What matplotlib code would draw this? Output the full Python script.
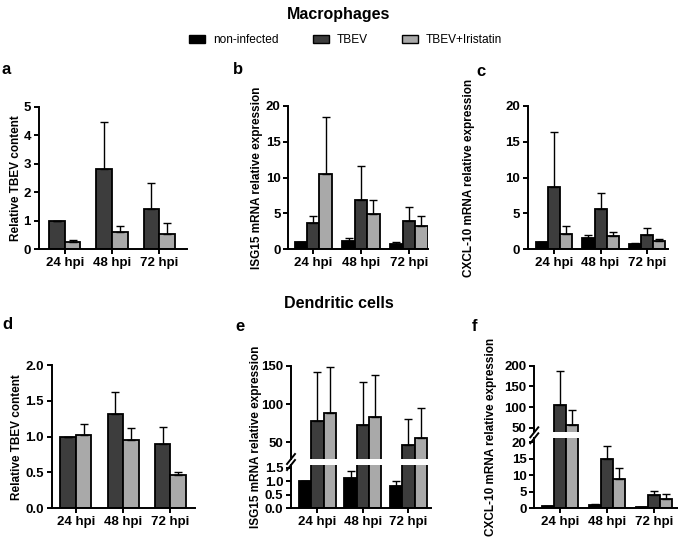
import numpy as np
import matplotlib
matplotlib.use("Agg")
import matplotlib.pyplot as plt
from matplotlib.patches import Patch

plt.rcParams["font.family"] = ["Liberation Sans", "DejaVu Sans"]

W, H = 678, 537

groups = ["24 hpi", "48 hpi", "72 hpi"]
series = ["non-infected", "TBEV", "TBEV+Iristatin"]
colors = {"non-infected": "#000000", "TBEV": "#3d3d3d", "TBEV+Iristatin": "#a9a9a9"}

# Macrophages
a_mean = {"TBEV": [1.0, 2.81, 1.42], "TBEV+Iristatin": [0.23, 0.61, 0.52]}
a_sd = {"TBEV": [0, 1.65, 0.89], "TBEV+Iristatin": [0.10, 0.21, 0.39]}

b_mean = {"non-infected": [1.0, 1.07, 0.70], "TBEV": [3.6, 6.85, 3.87],
          "TBEV+Iristatin": [10.5, 4.85, 3.15]}
b_sd = {"non-infected": [0, 0.53, 0.33], "TBEV": [0.97, 4.71, 2.05],
        "TBEV+Iristatin": [7.9, 2.0, 1.45]}

c_mean = {"non-infected": [1.0, 1.54, 0.66], "TBEV": [8.72, 5.6, 2.0],
          "TBEV+Iristatin": [2.14, 1.86, 1.08]}
c_sd = {"non-infected": [0, 0.46, 0.18], "TBEV": [7.58, 2.28, 0.9],
        "TBEV+Iristatin": [1.06, 0.47, 0.28]}

# Dendritic cells
d_mean = {"TBEV": [1.0, 1.32, 0.90], "TBEV+Iristatin": [1.02, 0.95, 0.47]}
d_sd = {"TBEV": [0, 0.31, 0.24], "TBEV+Iristatin": [0.16, 0.17, 0.04]}

e_mean = {"non-infected": [1.0, 1.13, 0.84], "TBEV": [78.3, 72.6, 46.5],
          "TBEV+Iristatin": [87.8, 82.6, 55.2]}
e_sd = {"non-infected": [0, 0.24, 0.19], "TBEV": [63.0, 56.1, 34.5],
        "TBEV+Iristatin": [60.9, 55.2, 39.6]}

f_mean = {"non-infected": [0.8, 0.9, 0.3], "TBEV": [104.8, 14.85, 4.06],
          "TBEV+Iristatin": [55.6, 8.79, 2.84]}
f_sd = {"non-infected": [0, 0.4, 0], "TBEV": [83.1, 4.15, 1.14],
        "TBEV+Iristatin": [37.1, 3.5, 1.42]}

fig = plt.figure(figsize=(W / 100, H / 100), dpi=100)


def px_axes(l, r, t, b):
    return fig.add_axes([l / W, 1 - b / H, (r - l) / W, (b - t) / H])


def style(ax, xlim, ylim, yticks, fmt="{:g}", bottom=True):
    ax.set_xlim(*xlim)
    ax.set_ylim(*ylim)
    ax.set_yticks(yticks)
    ax.set_yticklabels([fmt.format(v) for v in yticks], fontsize=9.5, fontweight="bold")
    for s in ["top", "right"]:
        ax.spines[s].set_visible(False)
    for s in ["left", "bottom"]:
        ax.spines[s].set_linewidth(1.4)
    ax.tick_params(axis="both", direction="out", length=3.5, width=1.4, pad=2)
    if bottom:
        ax.set_xticks(range(len(groups)))
        ax.set_xticklabels(groups, fontsize=9.5, fontweight="bold")
    else:
        ax.spines["bottom"].set_visible(False)
        ax.set_xticks([])


def draw_bars(axs, means, sds, width):
    keys = list(means.keys())
    n = len(keys)
    x = np.arange(len(groups))
    for i, k in enumerate(keys):
        off = (i - (n - 1) / 2) * width
        m = np.array(means[k])
        sd = np.array(sds[k])
        for ax in axs:
            ax.bar(x + off, m, width=width, color=colors[k], edgecolor="black",
                   linewidth=1.3, zorder=2)
            ax.errorbar(x + off, m, yerr=[np.zeros_like(sd), sd], fmt="none",
                        ecolor="black", elinewidth=1.0, capsize=3, capthick=1.0,
                        zorder=3)


def break_marks(ax_top, ax_bot):
    for ax, ypos in [(ax_top, 0), (ax_bot, 1)]:
        bb = ax.get_window_extent()
        dx = 4 / bb.width
        dy = 5 / bb.height
        ax.plot([-dx, dx], [ypos - dy, ypos + dy], transform=ax.transAxes,
                color="black", lw=1.4, clip_on=False, zorder=5)


def ylabel(x_px, ax_top_px, ax_bot_px, text):
    fig.text(x_px / W, 1 - (ax_top_px + ax_bot_px) / 2 / H, text, rotation=90,
             ha="center", va="center", fontsize=8.5, fontweight="bold")


# panel a
ax = px_axes(38.5, 187, 106.7, 249)
draw_bars([ax], a_mean, a_sd, 0.33)
style(ax, (-0.56, 2.59), (0, 5), [0, 1, 2, 3, 4, 5])
ylabel(16, 106.7, 249, "Relative TBEV content")

# panel b
ax = px_axes(288.3, 428, 106, 249)
draw_bars([ax], b_mean, b_sd, 0.26)
style(ax, (-0.52, 2.4), (0, 20), [0, 5, 10, 15, 20])
ylabel(257, 106, 249, "ISG15 mRNA relative expression")

# panel c
ax = px_axes(528, 668, 106, 249)
draw_bars([ax], c_mean, c_sd, 0.26)
style(ax, (-0.56, 2.45), (0, 20), [0, 5, 10, 15, 20])
ylabel(469, 106, 249, "CXCL-10 mRNA relative expression")

# panel d
ax = px_axes(51.7, 195, 365, 508.3)
draw_bars([ax], d_mean, d_sd, 0.33)
style(ax, (-0.51, 2.52), (0, 2), [0, 0.5, 1.0, 1.5, 2.0], fmt="{:.1f}")
ylabel(17, 365, 508.3, "Relative TBEV content")

# panel e (broken axis)
ax_t = px_axes(291, 430.7, 365.7, 459)
ax_b = px_axes(291, 430.7, 465, 508.3)
draw_bars([ax_t, ax_b], e_mean, e_sd, 0.27)
style(ax_t, (-0.58, 2.49), (28.2, 150), [50, 100, 150], bottom=False)
style(ax_b, (-0.58, 2.49), (0, 1.61), [0, 0.5, 1.0, 1.5], fmt="{:.1f}")
break_marks(ax_t, ax_b)
ylabel(256, 365.7, 508.3, "ISG15 mRNA relative expression")

# panel f (broken axis)
ax_t = px_axes(534.3, 678, 365.7, 432.3)
ax_b = px_axes(534.3, 678, 438.3, 508.3)
draw_bars([ax_t, ax_b], f_mean, f_sd, 0.26)
style(ax_t, (-0.55, 2.51), (38.9, 200), [50, 100, 150, 200], bottom=False)
style(ax_b, (-0.55, 2.51), (0, 21.2), [0, 5, 10, 15, 20])
break_marks(ax_t, ax_b)
ylabel(491, 365.7, 508.3, "CXCL-10 mRNA relative expression")

# titles, letters, legend
fig.text(0.5, 1 - 14 / H, "Macrophages", ha="center", va="center",
         fontsize=11.5, fontweight="bold")
fig.text(0.5, 1 - 303 / H, "Dendritic cells", ha="center", va="center",
         fontsize=11.5, fontweight="bold")
for letter, x, y in [("a", 2, 74), ("b", 233, 74), ("c", 476, 76),
                     ("d", 2, 329), ("e", 235, 331), ("f", 472, 331)]:
    fig.text(x / W, 1 - y / H, letter, ha="left", va="baseline",
             fontsize=12, fontweight="bold")

handles = [Patch(facecolor=colors[s], edgecolor="black", linewidth=1.0) for s in series]
fig.legend(handles, series, loc="center", bbox_to_anchor=(0.51, 1 - 40 / H),
           ncol=3, frameon=False, fontsize=8.6, handlelength=1.34,
           handleheight=0.67, handletextpad=0.67, columnspacing=2.85)

fig.savefig("out.png", dpi=100)
